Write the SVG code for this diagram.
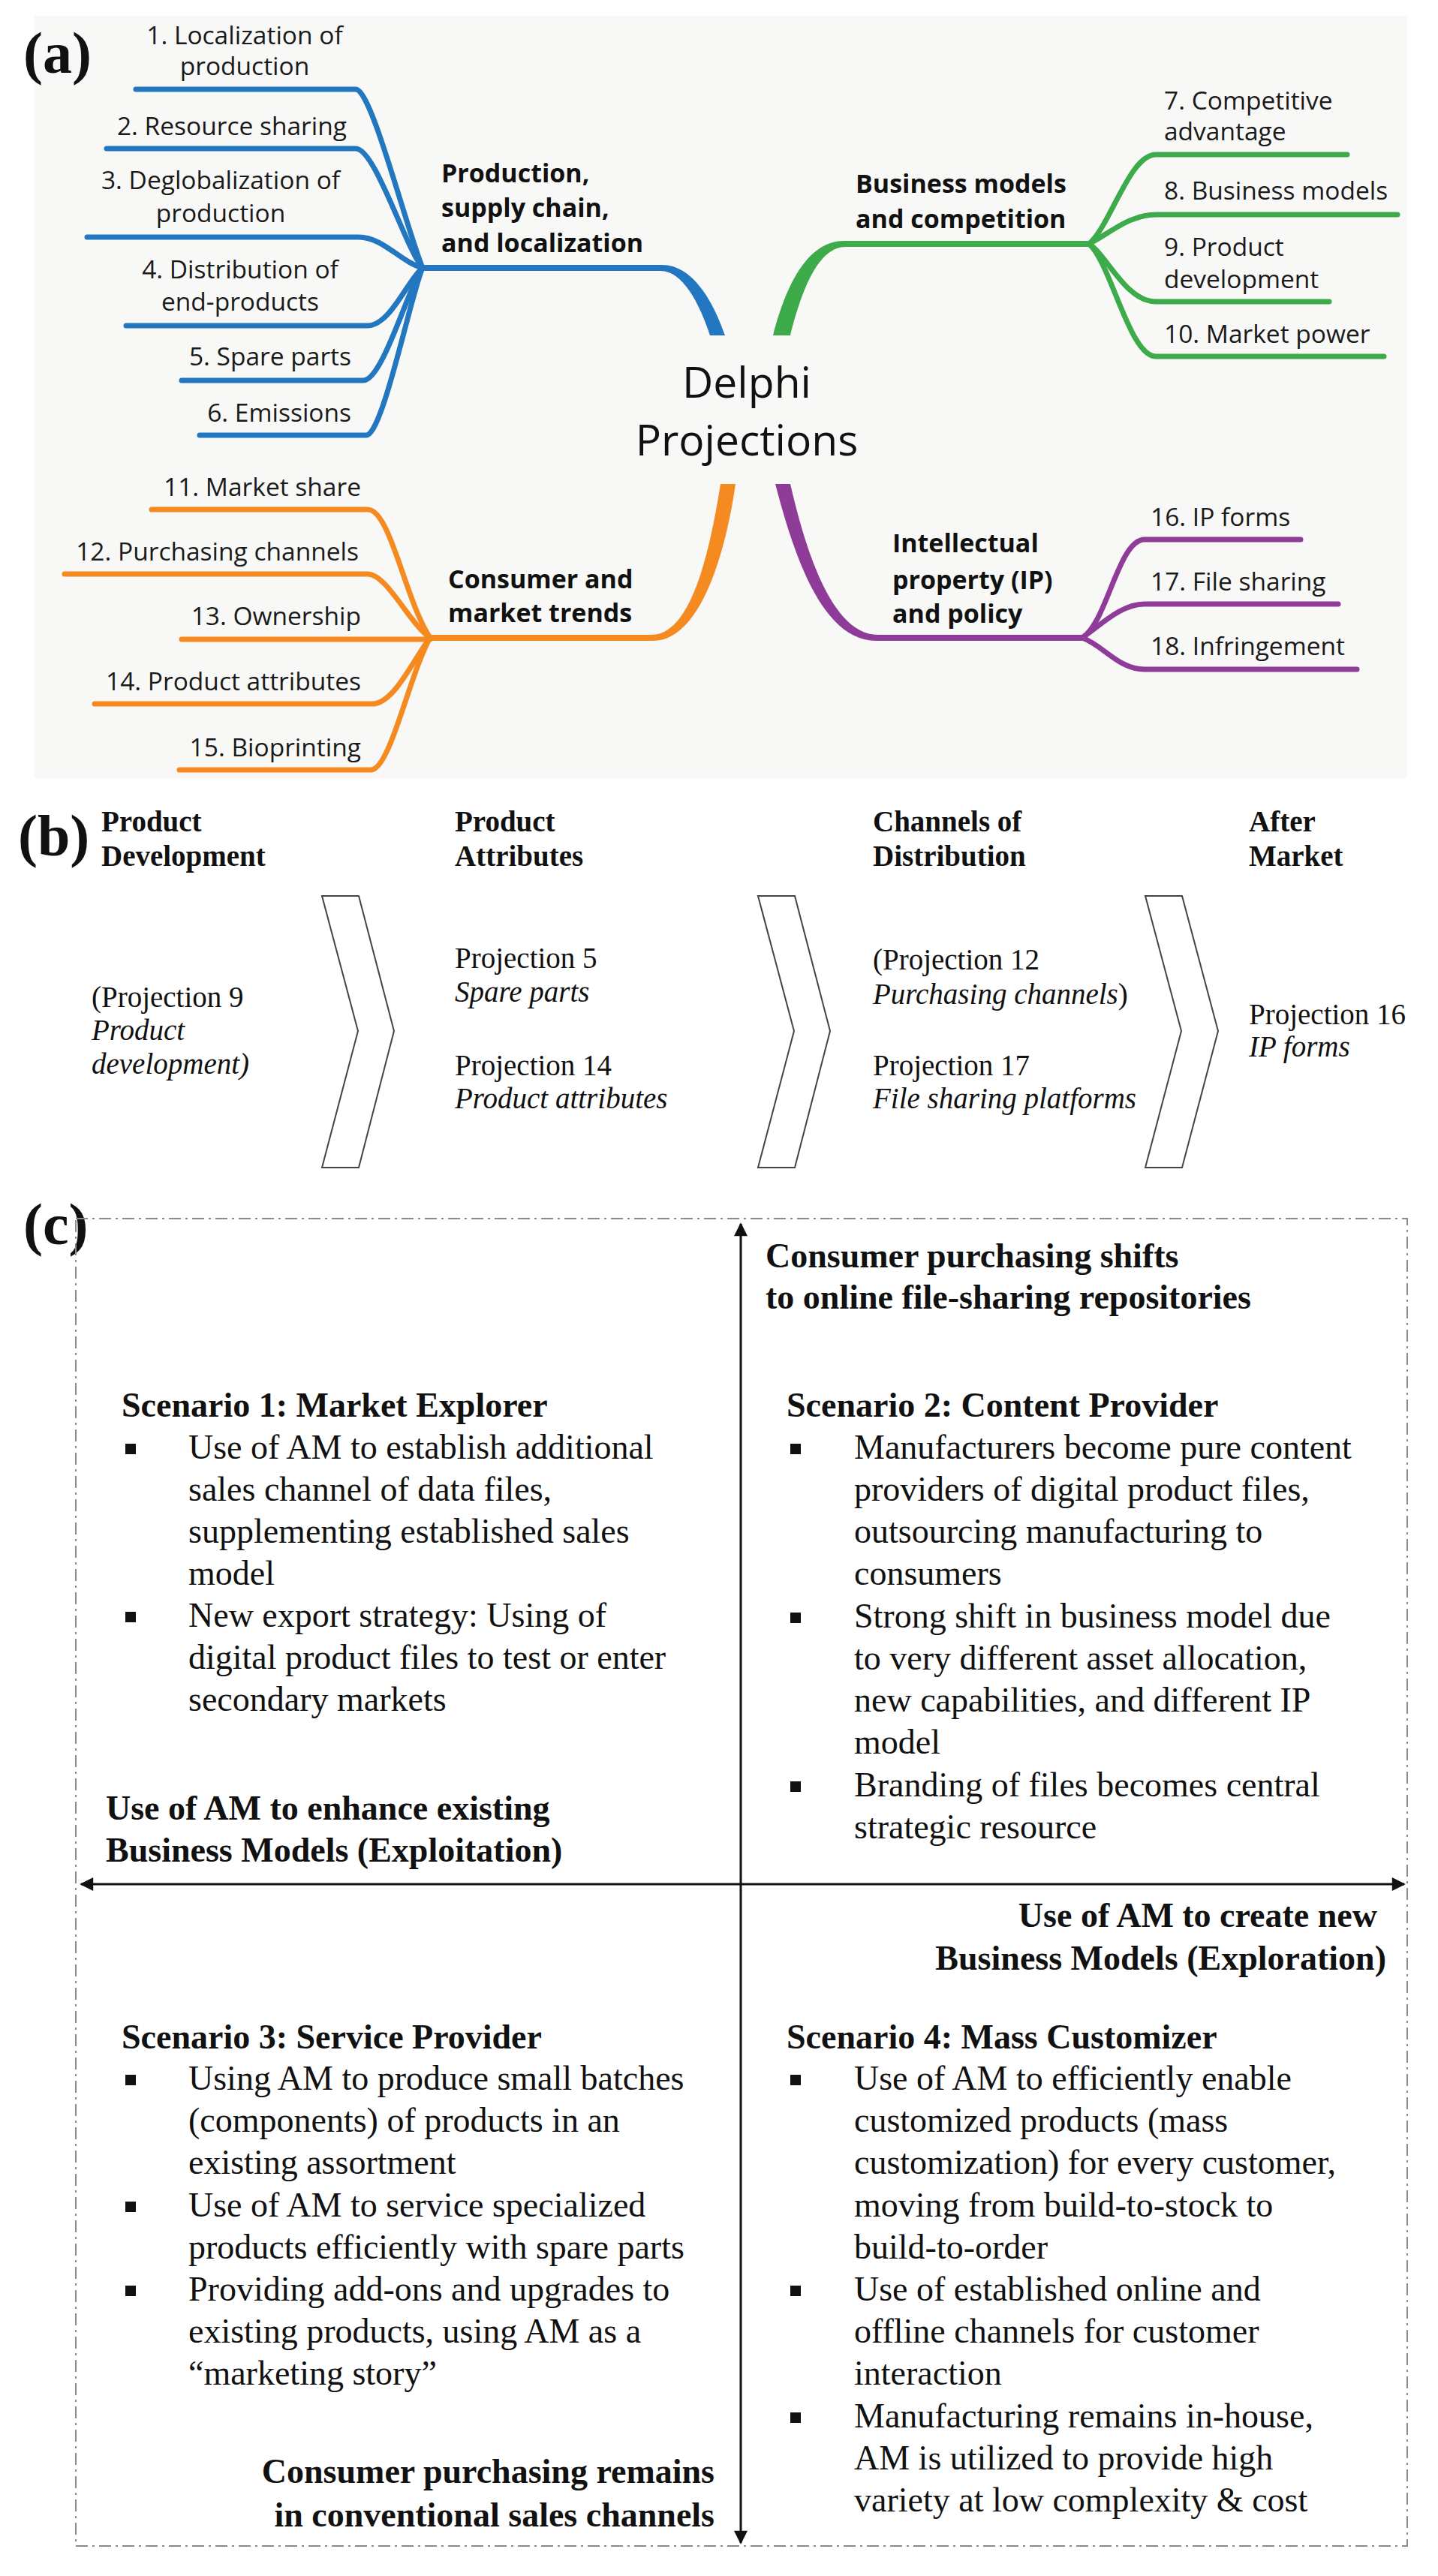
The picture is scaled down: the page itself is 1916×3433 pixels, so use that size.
<svg xmlns="http://www.w3.org/2000/svg" width="1916" height="3433" viewBox="0 0 1916 3433">
<defs>
<style>
.mm{font-family:"Open Sans","Liberation Sans",sans-serif;font-size:33.5px;fill:#1a1a1a}
.mmb{font-family:"Open Sans","Liberation Sans",sans-serif;font-size:34px;font-weight:bold;fill:#111}
.ctr{font-family:"Open Sans","Liberation Sans",sans-serif;font-size:57px;fill:#111}
.lbl{font-family:"Liberation Serif","Times New Roman",serif;font-size:78px;font-weight:bold;fill:#111}
.bh{font-family:"Liberation Serif","Times New Roman",serif;font-size:39px;font-weight:bold;fill:#111}
.bt{font-family:"Liberation Serif","Times New Roman",serif;font-size:39px;fill:#111}
.bi{font-family:"Liberation Serif","Times New Roman",serif;font-size:39px;font-style:italic;fill:#111}
.ch{fill:#fff;stroke:#444;stroke-width:2;stroke-linejoin:miter}
.ct{font-family:"Liberation Serif","Times New Roman",serif;font-size:46px;fill:#111}
.cb{font-family:"Liberation Serif","Times New Roman",serif;font-size:46px;font-weight:bold;fill:#111}
.bul{fill:#111}
.br{fill:none;stroke-width:7;stroke-linecap:round;stroke-linejoin:round}
.blue{stroke:#2277c0}.green{stroke:#3dab4a}.orange{stroke:#f48a20}.purple{stroke:#8f3b98}
.axis{stroke:#111;stroke-width:3;fill:none}
.frame{fill:none;stroke:#8a8a8a;stroke-width:2;stroke-dasharray:16 6 3 6}
</style>
<marker id="ah" viewBox="0 0 10 10" refX="9" refY="5" markerWidth="7" markerHeight="6" markerUnits="strokeWidth" orient="auto-start-reverse">
<path d="M0,0 L10,5 L0,10 Z" fill="#111"/>
</marker>
</defs>
<rect width="1916" height="3433" fill="#ffffff"/>
<rect x="46" y="21" width="1829" height="1016" fill="#f8f8f6"/>

<g id="connectors">
<path d="M563,353 H882 C922,353 950,400 966,447 L946,447 C932,405 910,361 880,361 H563 Z" fill="#2277c0"/>
<path d="M1030,447 C1050,370 1080,321 1125,321 H1451 V329 H1127 C1092,329 1070,380 1053,447 Z" fill="#3dab4a"/>
<path d="M960,645 L980,645 C968,730 935,854 870,854 H573 V846 H868 C920,846 945,740 960,645 Z" fill="#f48a20"/>
<path d="M1033,645 L1053,645 C1075,740 1110,846 1170,846 H1442 V854 H1168 C1095,854 1058,740 1033,645 Z" fill="#8f3b98"/>
<path class="br blue" d="M181,119 H474 C495,119 540,300 563,357"/>
<path class="br blue" d="M142,198 H474 C500,198 540,330 563,357"/>
<path class="br blue" d="M116,316 H478 C510,316 535,350 563,357"/>
<path class="br blue" d="M168,434 H490 C520,434 545,370 563,357"/>
<path class="br blue" d="M242,507 H484 C510,507 545,380 563,357"/>
<path class="br blue" d="M266,580 H488 C510,580 548,390 563,357"/>
<path class="br green" d="M1451,325 C1480,300 1505,206 1540,206 H1795"/>
<path class="br green" d="M1451,325 C1480,310 1505,286 1540,286 H1862"/>
<path class="br green" d="M1451,325 C1475,340 1500,402 1540,402 H1771"/>
<path class="br green" d="M1451,325 C1480,350 1505,475 1540,475 H1844"/>
<path class="br orange" d="M202,679 H490 C520,679 540,800 573,850"/>
<path class="br orange" d="M86,765 H490 C515,765 545,830 573,850"/>
<path class="br orange" d="M242,852 H573"/>
<path class="br orange" d="M126,938 H496 C525,938 550,880 573,850"/>
<path class="br orange" d="M239,1026 H494 C520,1026 545,900 573,850"/>
<path class="br purple" d="M1442,850 C1475,830 1490,719 1525,719 H1733"/>
<path class="br purple" d="M1442,850 C1470,830 1495,805 1525,805 H1783"/>
<path class="br purple" d="M1442,850 C1470,860 1490,892 1525,892 H1808"/>
<line class="axis" x1="987" y1="3389" x2="987" y2="1631" marker-start="url(#ah)" marker-end="url(#ah)"/>
<line class="axis" x1="108" y1="2511" x2="1871" y2="2511" marker-start="url(#ah)" marker-end="url(#ah)"/>
</g>

<g id="panel-labels">
<text class="lbl" x="31" y="97">(a)</text>
<text class="lbl" x="24" y="1140">(b)</text>
<text class="lbl" x="31" y="1658">(c)</text>
</g>

<g id="center">
<text class="ctr" x="995" y="530" text-anchor="middle">Delphi</text>
<text class="ctr" x="995" y="607" text-anchor="middle">Projections</text>
</g>

<g id="cat-production">
<text class="mmb" x="588" y="243">Production,</text>
<text class="mmb" x="588" y="289">supply chain,</text>
<text class="mmb" x="588" y="336">and localization</text>
</g>
<g id="cat-business">
<text class="mmb" x="1140" y="257">Business models</text>
<text class="mmb" x="1140" y="304">and competition</text>
</g>
<g id="cat-ip">
<text class="mmb" x="1189" y="736">Intellectual</text>
<text class="mmb" x="1189" y="785">property (IP)</text>
<text class="mmb" x="1189" y="830">and policy</text>
</g>
<g id="cat-consumer">
<text class="mmb" x="597" y="784">Consumer and</text>
<text class="mmb" x="597" y="829">market trends</text>
</g>

<g id="p1"><text class="mm" x="326" y="59" text-anchor="middle">1. Localization of</text><text class="mm" x="326" y="100" text-anchor="middle">production</text></g>
<g id="p2"><text class="mm" x="462" y="180" text-anchor="end">2. Resource sharing</text></g>
<g id="p3"><text class="mm" x="294" y="252" text-anchor="middle">3. Deglobalization of</text><text class="mm" x="294" y="296" text-anchor="middle">production</text></g>
<g id="p4"><text class="mm" x="320" y="371" text-anchor="middle">4. Distribution of</text><text class="mm" x="320" y="414" text-anchor="middle">end-products</text></g>
<g id="p5"><text class="mm" x="468" y="487" text-anchor="end">5. Spare parts</text></g>
<g id="p6"><text class="mm" x="468" y="562" text-anchor="end">6. Emissions</text></g>
<g id="p7"><text class="mm" x="1551" y="146">7. Competitive</text><text class="mm" x="1551" y="187">advantage</text></g>
<g id="p8"><text class="mm" x="1551" y="266">8. Business models</text></g>
<g id="p9"><text class="mm" x="1551" y="341">9. Product</text><text class="mm" x="1551" y="384">development</text></g>
<g id="p10"><text class="mm" x="1551" y="457">10. Market power</text></g>
<g id="p11"><text class="mm" x="481" y="661" text-anchor="end">11. Market share</text></g>
<g id="p12"><text class="mm" x="478" y="747" text-anchor="end">12. Purchasing channels</text></g>
<g id="p13"><text class="mm" x="481" y="833" text-anchor="end">13. Ownership</text></g>
<g id="p14"><text class="mm" x="481" y="920" text-anchor="end">14. Product attributes</text></g>
<g id="p15"><text class="mm" x="481" y="1008" text-anchor="end">15. Bioprinting</text></g>
<g id="p16"><text class="mm" x="1533" y="701">16. IP forms</text></g>
<g id="p17"><text class="mm" x="1533" y="787">17. File sharing</text></g>
<g id="p18"><text class="mm" x="1533" y="873">18. Infringement</text></g>

<g id="stage-product-development">
<text class="bh" x="135" y="1108">Product</text>
<text class="bh" x="135" y="1154">Development</text>
<text class="bt" x="122" y="1342">(Projection 9</text>
<text class="bi" x="122" y="1386">Product</text>
<text class="bi" x="122" y="1431">development)</text>
</g>
<g id="chevron-1"><polygon class="ch" points="429,1194 478,1194 525,1374 478,1556 429,1556 477,1374"/></g>
<g id="stage-product-attributes">
<text class="bh" x="606" y="1108">Product</text>
<text class="bh" x="606" y="1154">Attributes</text>
<text class="bt" x="606" y="1290">Projection 5</text>
<text class="bi" x="606" y="1335">Spare parts</text>
<text class="bt" x="606" y="1433">Projection 14</text>
<text class="bi" x="606" y="1477">Product attributes</text>
</g>
<g id="chevron-2"><polygon class="ch" points="1010,1194 1059,1194 1106,1374 1059,1556 1010,1556 1058,1374"/></g>
<g id="stage-channels">
<text class="bh" x="1163" y="1108">Channels of</text>
<text class="bh" x="1163" y="1154">Distribution</text>
<text class="bt" x="1163" y="1292">(Projection 12</text>
<text class="bi" x="1163" y="1338">Purchasing channels<tspan font-style="normal">)</tspan></text>
<text class="bt" x="1163" y="1433">Projection 17</text>
<text class="bi" x="1163" y="1477">File sharing platforms</text>
</g>
<g id="chevron-3"><polygon class="ch" points="1526,1194 1575,1194 1623,1374 1575,1556 1526,1556 1574,1374"/></g>
<g id="stage-after-market">
<text class="bh" x="1664" y="1108">After</text>
<text class="bh" x="1664" y="1154">Market</text>
<text class="bt" x="1664" y="1365">Projection 16</text>
<text class="bi" x="1664" y="1408">IP forms</text>
</g>

<g id="frame"><rect class="frame" x="101" y="1624" width="1774" height="1769"/></g>

<g id="axis-labels">
<text class="cb" x="1020" y="1689">Consumer purchasing shifts</text>
<text class="cb" x="1020" y="1744">to online file-sharing repositories</text>
<text class="cb" x="141" y="2425">Use of AM to enhance existing</text>
<text class="cb" x="141" y="2481">Business Models (Exploitation)</text>
<text class="cb" x="1835" y="2568" text-anchor="end">Use of AM to create new</text>
<text class="cb" x="1847" y="2625" text-anchor="end">Business Models (Exploration)</text>
<text class="cb" x="952" y="3309" text-anchor="end">Consumer purchasing remains</text>
<text class="cb" x="952" y="3367" text-anchor="end">in conventional sales channels</text>
</g>

<g id="scenario-1">
<text class="cb" x="162" y="1888">Scenario 1: Market Explorer</text>
<rect class="bul" x="167" y="1924" width="14" height="14"/>
<text class="ct" x="251" y="1944">Use of AM to establish additional</text>
<text class="ct" x="251" y="2000">sales channel of data files,</text>
<text class="ct" x="251" y="2056">supplementing established sales</text>
<text class="ct" x="251" y="2112">model</text>
<rect class="bul" x="167" y="2148" width="14" height="14"/>
<text class="ct" x="251" y="2168">New export strategy: Using of</text>
<text class="ct" x="251" y="2224">digital product files to test or enter</text>
<text class="ct" x="251" y="2280">secondary markets</text>
</g>

<g id="scenario-2">
<text class="cb" x="1048" y="1888">Scenario 2: Content Provider</text>
<rect class="bul" x="1053" y="1924" width="14" height="14"/>
<text class="ct" x="1138" y="1944">Manufacturers become pure content</text>
<text class="ct" x="1138" y="2000">providers of digital product files,</text>
<text class="ct" x="1138" y="2056">outsourcing manufacturing to</text>
<text class="ct" x="1138" y="2112">consumers</text>
<rect class="bul" x="1053" y="2149" width="14" height="14"/>
<text class="ct" x="1138" y="2169">Strong shift in business model due</text>
<text class="ct" x="1138" y="2225">to very different asset allocation,</text>
<text class="ct" x="1138" y="2281">new capabilities, and different IP</text>
<text class="ct" x="1138" y="2337">model</text>
<rect class="bul" x="1053" y="2374" width="14" height="14"/>
<text class="ct" x="1138" y="2394">Branding of files becomes central</text>
<text class="ct" x="1138" y="2450">strategic resource</text>
</g>

<g id="scenario-3">
<text class="cb" x="162" y="2730">Scenario 3: Service Provider</text>
<rect class="bul" x="167" y="2765" width="14" height="14"/>
<text class="ct" x="251" y="2785">Using AM to produce small batches</text>
<text class="ct" x="251" y="2841">(components) of products in an</text>
<text class="ct" x="251" y="2897">existing assortment</text>
<rect class="bul" x="167" y="2934" width="14" height="14"/>
<text class="ct" x="251" y="2954">Use of AM to service specialized</text>
<text class="ct" x="251" y="3010">products efficiently with spare parts</text>
<rect class="bul" x="167" y="3046" width="14" height="14"/>
<text class="ct" x="251" y="3066">Providing add-ons and upgrades to</text>
<text class="ct" x="251" y="3122">existing products, using AM as a</text>
<text class="ct" x="251" y="3178">“marketing story”</text>
</g>

<g id="scenario-4">
<text class="cb" x="1048" y="2730">Scenario 4: Mass Customizer</text>
<rect class="bul" x="1053" y="2765" width="14" height="14"/>
<text class="ct" x="1138" y="2785">Use of AM to efficiently enable</text>
<text class="ct" x="1138" y="2841">customized products (mass</text>
<text class="ct" x="1138" y="2897">customization) for every customer,</text>
<text class="ct" x="1138" y="2954">moving from build-to-stock to</text>
<text class="ct" x="1138" y="3010">build-to-order</text>
<rect class="bul" x="1053" y="3046" width="14" height="14"/>
<text class="ct" x="1138" y="3066">Use of established online and</text>
<text class="ct" x="1138" y="3122">offline channels for customer</text>
<text class="ct" x="1138" y="3178">interaction</text>
<rect class="bul" x="1053" y="3215" width="14" height="14"/>
<text class="ct" x="1138" y="3235">Manufacturing remains in-house,</text>
<text class="ct" x="1138" y="3291">AM is utilized to provide high</text>
<text class="ct" x="1138" y="3347">variety at low complexity &amp; cost</text>
</g>
</svg>
